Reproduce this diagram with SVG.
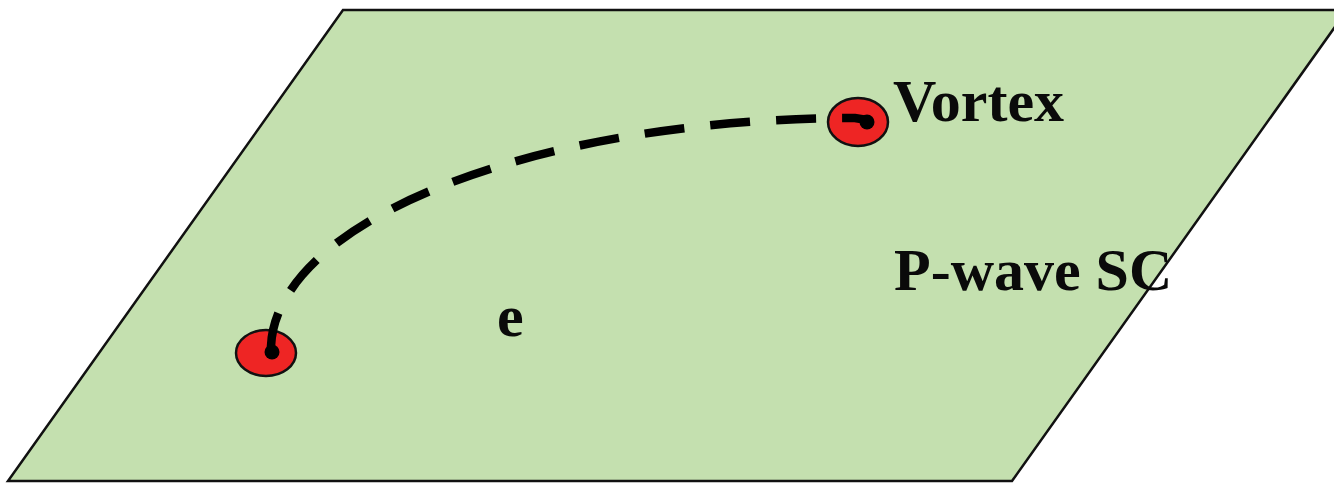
<svg xmlns="http://www.w3.org/2000/svg" width="1334" height="483" viewBox="0 0 1334 483">
<style>
.lbl{font-family:"Liberation Serif","Times New Roman",serif;font-weight:bold;font-size:60px;fill:#0a0a0a}
.vort{fill:#ee2524;stroke:#111;stroke-width:2.5}
.core{fill:#000}
.path{fill:none;stroke:#000;stroke-width:8.5;stroke-dasharray:40 26}
</style>
<rect width="1334" height="483" fill="#fff"/>
<g id="plane">
<polygon points="343,10 1347,10 1012,481 8,481" fill="#c4e0af" stroke="#111" stroke-width="2.5"/>
</g>
<g id="vortex-left">
<ellipse class="vort" cx="266" cy="353" rx="30" ry="23"/>
</g>
<g id="vortex-right">
<ellipse class="vort" cx="858" cy="122" rx="30" ry="24"/>
</g>
<g id="connectors">
<path class="path" d="M 272,352 L 271,346 A 585 232 0 0 1 855,118 L 867,120"/>
</g>
<g id="cores">
<circle class="core" cx="272" cy="352" r="7.5"/>
<circle class="core" cx="867" cy="122" r="7.5"/>
</g>
<g id="labels">
<text class="lbl" x="893" y="121">Vortex</text>
<text class="lbl" x="894" y="290">P-wave SC</text>
<text class="lbl" x="497" y="336">e</text>
</g>
</svg>
